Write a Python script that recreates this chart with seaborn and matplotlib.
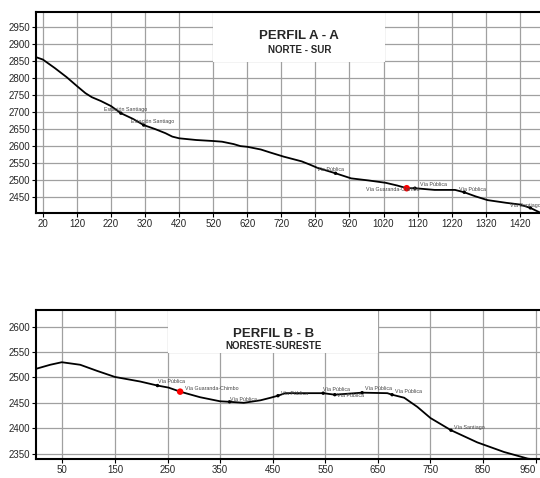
import matplotlib
matplotlib.use('Agg')
import matplotlib.pyplot as plt
import matplotlib.patches as mpatches
import pandas as pd
import seaborn as sns

# Profile A - A (distance, elevation)
dist_a = [0, 20, 55, 90, 120, 145, 164, 190, 220, 249, 285, 316, 350, 380, 400, 420,
          470, 520, 546, 580, 600, 620, 660, 688, 727, 780, 805, 826, 879, 925, 975,
          1026, 1060, 1088, 1112, 1170, 1230, 1257, 1290, 1325, 1380, 1420, 1451, 1482]
elev_a = [2862, 2855, 2830, 2803, 2777, 2756, 2744, 2733, 2718, 2697, 2680, 2662,
          2650, 2638, 2628, 2623, 2618, 2615, 2613, 2606, 2600, 2598, 2590, 2581,
          2569, 2555, 2545, 2536, 2520, 2505, 2499, 2492, 2484, 2476, 2476, 2471,
          2471, 2464, 2452, 2441, 2433, 2428, 2418, 2403]

# points of interest A - A
poi_a_x = [249, 316, 879, 1088, 1112, 1257, 1451]
poi_a_y = [2697, 2662, 2520, 2476, 2476, 2464, 2418]
poi_a_lbl = ['Estación Santiago', 'Estación Santiago', 'Vía Pública',
             'Vía Guaranda-Chimbo', 'Vía Pública', 'Vía Pública', 'Vía Santiago']
poi_a_red = [False, False, False, True, False, False, False]

# Profile B - B
dist_b = [0, 27, 49, 84, 116, 150, 198, 231, 252, 274, 312, 350, 368, 395, 427,
          446, 460, 474, 509, 546, 568, 620, 668, 677, 700, 725, 750, 789, 839,
          890, 935, 960]
elev_b = [2517, 2525, 2530, 2525, 2513, 2501, 2492, 2484, 2480, 2472, 2461, 2453,
          2452, 2450, 2455, 2460, 2464, 2469, 2469, 2469, 2466, 2470, 2469, 2466,
          2460, 2442, 2420, 2396, 2372, 2353, 2340, 2337]

poi_b_x = [231, 274, 368, 460, 546, 568, 620, 677, 789]
poi_b_y = [2484, 2472, 2452, 2464, 2469, 2466, 2470, 2466, 2396]
poi_b_lbl = ['Vía Pública', 'Vía Guaranda-Chimbo', 'Vía Pública', 'Vía Pública',
             'Vía Pública', 'Vía Pública', 'Vía Pública', 'Vía Pública', 'Vía Santiago']
poi_b_red = [False, True, False, False, False, False, False, False, False]

sns.set_style('white')
plt.rcParams['font.family'] = ['Liberation Sans', 'DejaVu Sans']

fig = plt.figure(figsize=(5.4, 4.78), dpi=100)
ax1 = fig.add_axes([0.0667, 0.5544, 0.935, 0.4205])
ax2 = fig.add_axes([0.0667, 0.0395, 0.935, 0.312])


def draw_profile(ax, dist, elev, px, py, pred, title, subtitle, box, ty, xlim, ylim,
                 xticks, yticks):
    ax.set_xlim(*xlim)
    ax.set_ylim(*ylim)
    ax.set_xticks(xticks)
    ax.set_yticks(yticks)
    ax.grid(True, color='#a0a0a0', linewidth=0.9)
    ax.set_axisbelow(True)

    # white title box over the grid
    ax.add_patch(mpatches.Rectangle((box[0], box[1]), box[2] - box[0], 1.02 - box[1],
                                    transform=ax.transAxes, facecolor='white',
                                    edgecolor='none', zorder=1.5))
    cx = (box[0] + box[2]) / 2
    ax.text(cx, ty[0], title, transform=ax.transAxes,
            ha='center', va='center', fontsize=9.5, fontweight='bold', zorder=3)
    ax.text(cx, ty[1], subtitle, transform=ax.transAxes,
            ha='center', va='center', fontsize=7, fontweight='bold', zorder=3)

    df = pd.DataFrame({'dist': dist, 'elev': elev})
    sns.lineplot(data=df, x='dist', y='elev', ax=ax, color='black', linewidth=1.3,
                 zorder=4)
    pts = pd.DataFrame({'x': px, 'y': py, 'red': pred})
    sns.scatterplot(data=pts[~pts['red']], x='x', y='y', ax=ax, color='black', s=6,
                    edgecolor='none', zorder=5)
    sns.scatterplot(data=pts[pts['red']], x='x', y='y', ax=ax, color='red', s=22,
                    edgecolor='none', zorder=6)
    return ax


draw_profile(ax1, dist_a, elev_a, poi_a_x, poi_a_y, poi_a_red,
             'PERFIL A - A', 'NORTE - SUR', (0.351, 0.751, 0.692), (0.88, 0.81),
             (0, 1482), (2403, 2995),
             list(range(20, 1421, 100)), list(range(2450, 2951, 50)))
draw_profile(ax2, dist_b, elev_b, poi_b_x, poi_b_y, poi_b_red,
             'PERFIL B - B', 'NORESTE-SURESTE', (0.262, 0.712, 0.677), (0.84, 0.76),
             (0, 960), (2339, 2633),
             list(range(50, 951, 100)), list(range(2350, 2601, 50)))

# point labels
lbl_off_a = [(-50, 6), (-38, 6), (-55, 6), (-120, -7), (15, 6), (-15, 5), (-60, 4)]
for (x, y, t, o) in zip(poi_a_x, poi_a_y, poi_a_lbl, lbl_off_a):
    ax1.text(x + o[0], y + o[1], t, fontsize=3.8, color='#444444', zorder=6)

lbl_off_b = [(0, 6), (10, 4), (0, 2), (5, 2), (0, 4), (5, -4), (5, 5), (5, 4), (5, 3)]
for (x, y, t, o) in zip(poi_b_x, poi_b_y, poi_b_lbl, lbl_off_b):
    ax2.text(x + o[0], y + o[1], t, fontsize=3.8, color='#444444', zorder=6)

for ax in (ax1, ax2):
    ax.set_xlabel('')
    ax.set_ylabel('')
    ax.tick_params(axis='both', labelsize=7, length=3, width=0.8, color='black',
                   direction='out', left=True, bottom=True, pad=1.5)
    for side in ('left', 'top', 'bottom'):
        ax.spines[side].set_color('black')
        ax.spines[side].set_linewidth(1.5)
    ax.spines['right'].set_visible(False)

# keep the last tick label of the lower profile inside the figure
ax2.get_xticklabels()[-1].set_horizontalalignment('right')

fig.savefig('out.png', dpi=100)
